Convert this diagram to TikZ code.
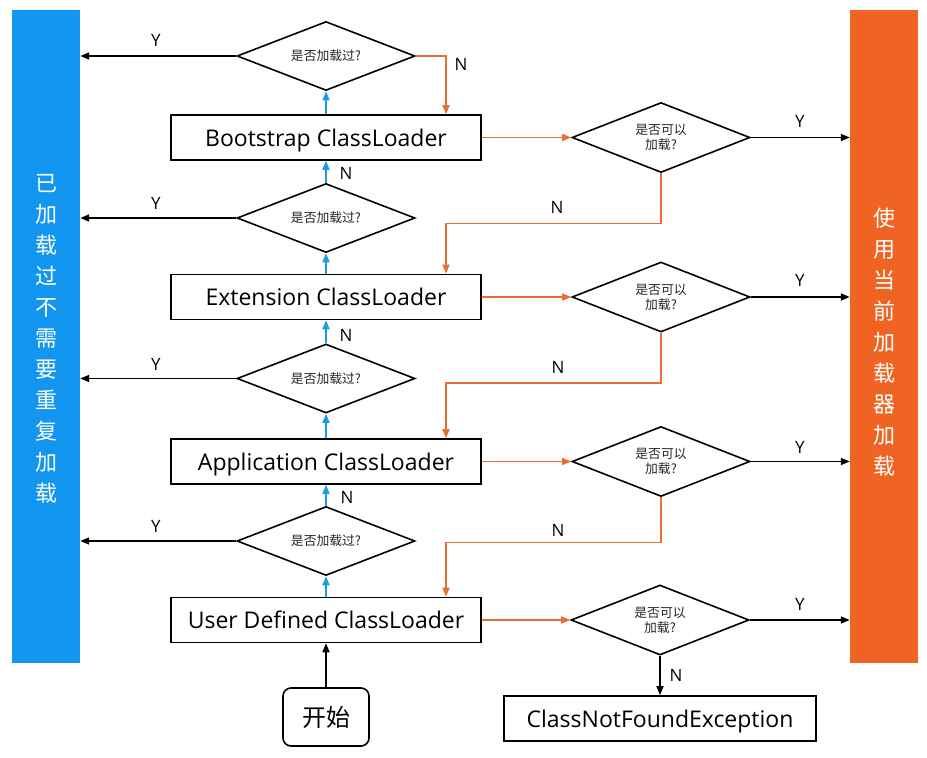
\documentclass[tikz,border=0pt]{standalone}
\usepackage{fontspec}
\setmainfont{Open Sans}
\newfontfamily\cjk{Noto Sans CJK SC}
\usetikzlibrary{shapes.geometric,arrows.meta}
\definecolor{barblue}{RGB}{18,150,240}
\definecolor{arrblue}{RGB}{30,155,230}
\definecolor{barorange}{RGB}{240,100,35}
\definecolor{arrorange}{RGB}{232,110,50}
\tikzset{
  loader/.style={draw, line width=1.6pt, minimum width=310pt, minimum height=45pt, inner sep=0pt, text height=17pt, text depth=0pt, font=\fontsize{23}{27}\selectfont},
  dia/.style={diamond, draw, line width=1.6pt, minimum width=178pt, minimum height=70pt, inner sep=0pt, shape aspect=2.5, align=center, text=black!85, font=\cjk\fontsize{12.8}{15}\selectfont},
  bar/.style={minimum width=68pt, minimum height=653pt, inner sep=0pt},
  bartxt/.style={text=white, align=center, font=\cjk\fontsize{22}{31}\selectfont},
  lbl/.style={font=\fontsize{17}{20}\selectfont, inner sep=0pt},
  tip/.style={-{Triangle[length=9pt,width=7pt]}},
  karr/.style={tip, line width=1.6pt, black},
  oarr/.style={tip, line width=1.6pt, arrorange},
  barr/.style={tip, line width=1.6pt, arrblue},
}
\begin{document}
\begin{tikzpicture}[x=1pt,y=-1pt]
\useasboundingbox (0,0) rectangle (927,758);
% side bars
\node[bar, fill=barblue] (left) at (46,336.5) {};
\node[bartxt] (lefttxt) at (46,339) {已\\加\\载\\过\\不\\需\\要\\重\\复\\加\\载};
\node[bar, fill=barorange] (right) at (884,336.5) {};
\node[bartxt] (righttxt) at (884,342) {使\\用\\当\\前\\加\\载\\器\\加\\载};
% loaders
\node[loader] (boot) at (326,137.5) {Bootstrap ClassLoader};
\node[loader] (ext) at (326,297) {Extension ClassLoader};
\node[loader] (app) at (326,461.5) {Application ClassLoader};
\node[loader] (user) at (326,620) {User Defined ClassLoader};
% loaded? diamonds
\node[dia, minimum height=69pt] (d1) at (326,56) {是否加载过?};
\node[dia, minimum height=69pt] (d2) at (326,218) {是否加载过?};
\node[dia, minimum height=69pt] (d3) at (326,378.5) {是否加载过?};
\node[dia, minimum height=69pt] (d4) at (326,541) {是否加载过?};
% can load? diamonds
\node[dia] (c1) at (661,137.5) {是否可以\\加载?};
\node[dia] (c2) at (661,297) {是否可以\\加载?};
\node[dia] (c3) at (661,461.5) {是否可以\\加载?};
\node[dia] (c4) at (660,620) {是否可以\\加载?};
% start and exception
\node[draw, line width=1.6pt, rounded corners=8pt, minimum width=86pt, minimum height=58pt, inner sep=0pt, font=\cjk\fontsize{24}{28}\selectfont] (start) at (326,717) {开始};
\node[loader, minimum width=312pt] (cnf) at (660,718.5) {ClassNotFoundException};
% Y arrows to left bar
\foreach \d in {d1,d2,d3,d4}{
  \draw[karr] (\d.west) -- (\d.west -| left.east);
}
\node[lbl] (y1) at (156,40) {Y};
\node[lbl] (y2) at (156,203) {Y};
\node[lbl] (y3) at (156,364) {Y};
\node[lbl] (y4) at (156,526) {Y};
% Y arrows to right bar
\foreach \c in {c1,c2,c3,c4}{
  \draw[karr] (\c.east) -- (\c.east -| right.west);
}
\node[lbl] (ry1) at (800,121) {Y};
\node[lbl] (ry2) at (800,280) {Y};
\node[lbl] (ry3) at (800,447) {Y};
\node[lbl] (ry4) at (800,604) {Y};
% blue upward arrows
\draw[barr] (boot.north) -- (d1.south);
\draw[barr] (d2.north) -- (boot.south);
\draw[barr] (ext.north) -- (d2.south);
\draw[barr] (d3.north) -- (ext.south);
\draw[barr] (app.north) -- (d3.south);
\draw[barr] (d4.north) -- (app.south);
\draw[barr] (user.north) -- (d4.south);
\node[lbl] (n1) at (346,173) {N};
\node[lbl] (n2) at (346,335) {N};
\node[lbl] (n3) at (347,497) {N};
% start arrow
\draw[karr] (start.north) -- (user.south);
% orange: top diamond N
\draw[oarr] (d1.east) -| ([xshift=120pt]boot.north);
\node[lbl] (n0) at (461,64) {N};
% orange: loaders to can-load diamonds
\draw[oarr] (boot.east) -- (c1.west);
\draw[oarr] (ext.east) -- (c2.west);
\draw[oarr] (app.east) -- (c3.west);
\draw[oarr] (user.east) -- (c4.west);
% orange: can-load N down to next loader
\draw[oarr] (c1.south) -- ++(0,50) -| ([xshift=120pt]ext.north);
\draw[oarr] (c2.south) -- ++(0,50) -| ([xshift=120pt]app.north);
\draw[oarr] (c3.south) -- ++(0,45) -| ([xshift=120pt]user.north);
\node[lbl] (m1) at (557,207) {N};
\node[lbl] (m2) at (558,367) {N};
\node[lbl] (m3) at (558,530) {N};
% final N
\draw[karr] (c4.south) -- (cnf.north);
\node[lbl] (nf) at (676,675) {N};
\end{tikzpicture}
\end{document}
